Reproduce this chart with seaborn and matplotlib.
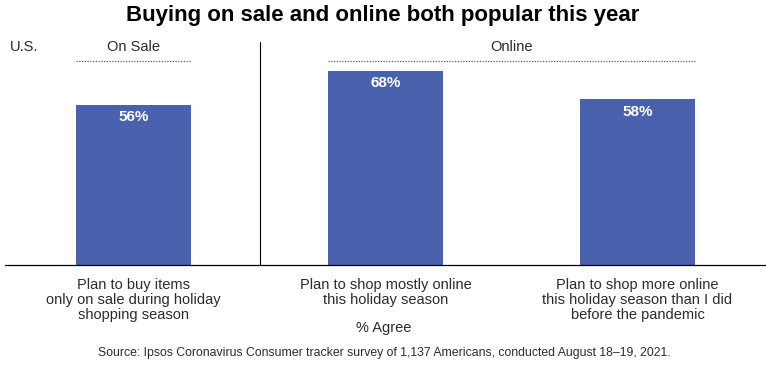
import matplotlib
matplotlib.use("Agg")
import matplotlib.pyplot as plt
import seaborn as sns

# Data
categories = [
    "Plan to buy items\nonly on sale during holiday\nshopping season",
    "Plan to shop mostly online\nthis holiday season",
    "Plan to shop more online\nthis holiday season than I did\nbefore the pandemic",
]
values = [56, 68, 58]
value_labels = ["56%", "68%", "58%"]
groups = ["On Sale", "Online"]
group_spans = [(0, 0), (1, 2)]

bar_color = "#4A62AE"
text_color = "#2b2b2b"

sns.set_style("white")
plt.rcParams["font.family"] = ["Liberation Sans", "DejaVu Sans"]

fig = plt.figure(figsize=(7.66, 3.71), dpi=100)
ax = fig.add_axes([5 / 766, (371 - 265) / 371, 761 / 766, 225 / 371])

sns.barplot(x=list(range(len(values))), y=values, color=bar_color,
            width=0.456, saturation=1, linewidth=0, ax=ax)

ax.set_xlim(-0.51, 2.51)
ax.set_ylim(0, 78.75)

# value labels inside the bars
for i, (v, lab) in enumerate(zip(values, value_labels)):
    ax.text(i, v - 4.3, lab, ha="center", va="center", color="white",
            fontsize=11, fontweight="bold")

# group headers with dotted underline
half = 0.228
for name, (a, b) in zip(groups, group_spans):
    ax.plot([a - half, b + half], [71.4, 71.4], color="#4a5a80", lw=0.9,
            ls=(0, (1, 1.2)), solid_capstyle="butt")
    ax.text((a + b) / 2, 76.3, name, ha="center", va="center",
            fontsize=10.5, color=text_color)

ax.text(-0.49, 76.3, "U.S.", ha="left", va="center", fontsize=10.5,
        color=text_color)

# separator between groups
ax.plot([0.5, 0.5], [0, 78.2], color="black", lw=0.8)

ax.set_xticks(range(len(categories)))
ax.set_xticklabels(categories, fontsize=10.5, color=text_color, linespacing=1.1)
ax.tick_params(axis="x", length=0, pad=9)
ax.set_yticks([])
ax.set_xlabel("")
ax.set_ylabel("")

for s in ["top", "left", "right"]:
    ax.spines[s].set_visible(False)
ax.spines["bottom"].set_color("black")
ax.spines["bottom"].set_linewidth(0.9)

fig.text(384 / 766, 1 - 328 / 371, "% Agree", ha="center", va="center",
         fontsize=10.5, color=text_color)
fig.text(383 / 766, 1 - 15 / 371, "Buying on sale and online both popular this year",
         ha="center", va="center", fontsize=16, fontweight="bold", color="black")
fig.text(384 / 766, 1 - 353 / 371,
         "Source: Ipsos Coronavirus Consumer tracker survey of 1,137 Americans, conducted August 18\u201319, 2021.",
         ha="center", va="center", fontsize=8.8, color=text_color)

fig.savefig("out.png", dpi=100)
